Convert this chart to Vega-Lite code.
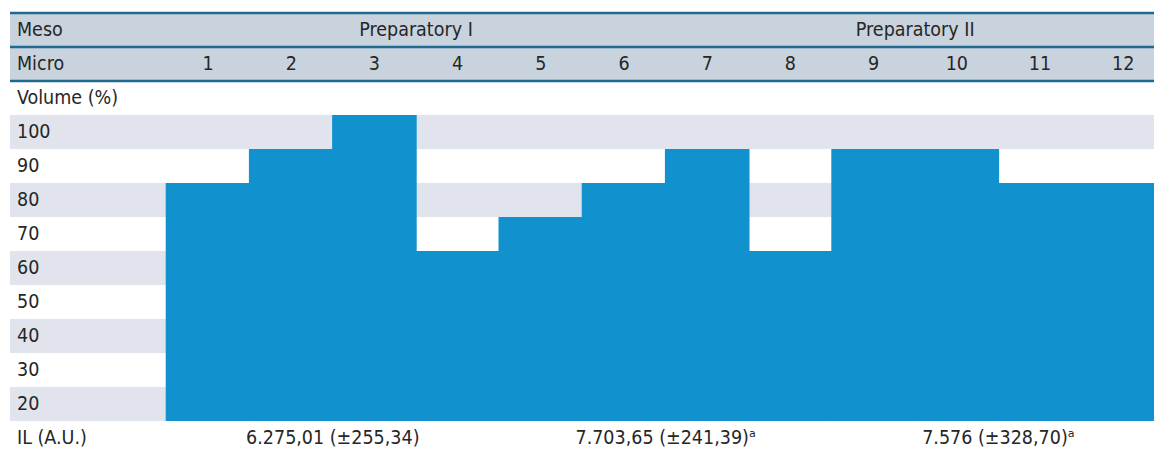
{
  "$schema": "https://vega.github.io/schema/vega-lite/v6.json",
  "width": 1154,
  "height": 451,
  "padding": 0,
  "autosize": {"type": "none"},
  "background": "white",
  "view": {"stroke": null},
  "config": {
    "text": {"font": "DejaVu Sans Condensed, sans-serif", "fontSize": 19.5, "color": "#262626", "baseline": "middle"}
  },
  "datasets": {
    "bars": [
      {"micro": 1, "volume": 80, "meso": "Preparatory I", "il": "6.275,01 (±255,34)"},
      {"micro": 2, "volume": 90, "meso": "Preparatory I", "il": "6.275,01 (±255,34)"},
      {"micro": 3, "volume": 100, "meso": "Preparatory I", "il": "6.275,01 (±255,34)"},
      {"micro": 4, "volume": 60, "meso": "Preparatory I", "il": "6.275,01 (±255,34)"},
      {"micro": 5, "volume": 70, "meso": "Preparatory I", "il": "7.703,65 (±241,39)ᵃ"},
      {"micro": 6, "volume": 80, "meso": "Preparatory I", "il": "7.703,65 (±241,39)ᵃ"},
      {"micro": 7, "volume": 90, "meso": "Preparatory II", "il": "7.703,65 (±241,39)ᵃ"},
      {"micro": 8, "volume": 60, "meso": "Preparatory II", "il": "7.703,65 (±241,39)ᵃ"},
      {"micro": 9, "volume": 90, "meso": "Preparatory II", "il": "7.576 (±328,70)ᵃ"},
      {"micro": 10, "volume": 90, "meso": "Preparatory II", "il": "7.576 (±328,70)ᵃ"},
      {"micro": 11, "volume": 80, "meso": "Preparatory II", "il": "7.576 (±328,70)ᵃ"},
      {"micro": 12, "volume": 80, "meso": "Preparatory II", "il": "7.576 (±328,70)ᵃ"}
    ],
    "rows": [
      {"label": "Meso", "level": 130},
      {"label": "Micro", "level": 120},
      {"label": "Volume (%)", "level": 110},
      {"label": "100", "level": 100},
      {"label": "90", "level": 90},
      {"label": "80", "level": 80},
      {"label": "70", "level": 70},
      {"label": "60", "level": 60},
      {"label": "50", "level": 50},
      {"label": "40", "level": 40},
      {"label": "30", "level": 30},
      {"label": "20", "level": 20},
      {"label": "IL (A.U.)", "level": 10}
    ]
  },
  "encoding": {},
  "layer": [
    {
      "data": {"name": "rows"},
      "transform": [{"filter": "datum.level >= 20 && datum.level <= 100 && datum.level % 20 == 0"}],
      "mark": {"type": "rule", "strokeWidth": 34, "color": "#e1e4ec"},
      "encoding": {
        "x": {"datum": -1.38, "type": "quantitative", "scale": {"domain": [-1.5, 12.37], "nice": false, "zero": false, "padding": 0}, "axis": null},
        "x2": {"datum": 12.37},
        "y": {"field": "level", "type": "quantitative", "scale": {"domain": [6.18, 138.82], "nice": false, "zero": false, "padding": 0}, "axis": null}
      }
    },
    {
      "data": {"name": "rows"},
      "transform": [{"filter": "datum.level >= 120"}],
      "mark": {"type": "rule", "strokeWidth": 34, "color": "#c9d3de"},
      "encoding": {
        "x": {"datum": -1.38, "type": "quantitative"},
        "x2": {"datum": 12.37},
        "y": {"field": "level", "type": "quantitative"}
      }
    },
    {
      "data": {"name": "rows"},
      "transform": [{"filter": "datum.level >= 120"}],
      "mark": {"type": "rule", "strokeWidth": 2.5, "color": "#1f6a8e", "yOffset": -17},
      "encoding": {
        "x": {"datum": -1.38, "type": "quantitative"},
        "x2": {"datum": 12.37},
        "y": {"field": "level", "type": "quantitative"}
      }
    },
    {
      "data": {"name": "rows"},
      "transform": [{"filter": "datum.level == 120"}],
      "mark": {"type": "rule", "strokeWidth": 2.5, "color": "#1f6a8e", "yOffset": 17},
      "encoding": {
        "x": {"datum": -1.38, "type": "quantitative"},
        "x2": {"datum": 12.37},
        "y": {"field": "level", "type": "quantitative"}
      }
    },
    {
      "data": {"name": "bars"},
      "mark": {"type": "bar", "color": "#1192cf", "size": 84.6, "yOffset": -17, "y2Offset": 17},
      "encoding": {
        "x": {"field": "micro", "type": "quantitative"},
        "y": {"field": "volume", "type": "quantitative"},
        "y2": {"datum": 20}
      }
    },
    {
      "data": {"name": "rows"},
      "mark": {"type": "text", "align": "left", "dx": 7},
      "encoding": {
        "x": {"datum": -1.38, "type": "quantitative"},
        "y": {"field": "level", "type": "quantitative"},
        "text": {"field": "label", "type": "nominal"}
      }
    },
    {
      "data": {"name": "bars"},
      "mark": {"type": "text", "align": "center"},
      "encoding": {
        "x": {"field": "micro", "type": "quantitative"},
        "y": {"datum": 120, "type": "quantitative"},
        "text": {"field": "micro", "type": "nominal"}
      }
    },
    {
      "data": {"name": "bars"},
      "mark": {"type": "text", "align": "center"},
      "encoding": {
        "x": {"aggregate": "mean", "field": "micro", "type": "quantitative"},
        "y": {"datum": 130, "type": "quantitative"},
        "text": {"field": "meso", "type": "nominal"}
      }
    },
    {
      "data": {"name": "bars"},
      "mark": {"type": "text", "align": "center"},
      "encoding": {
        "x": {"aggregate": "mean", "field": "micro", "type": "quantitative"},
        "y": {"datum": 10, "type": "quantitative"},
        "text": {"field": "il", "type": "nominal"}
      }
    }
  ]
}
